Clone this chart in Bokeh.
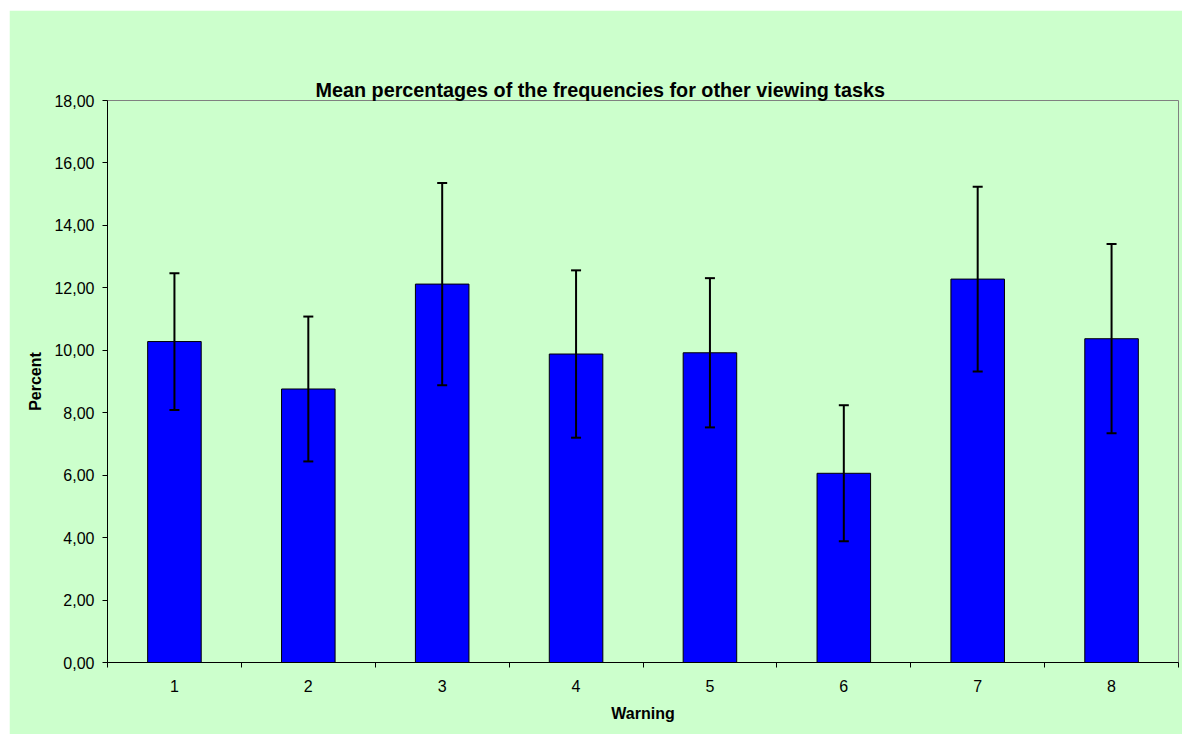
from bokeh.plotting import figure
from bokeh.models import ColumnDataSource, Whisker, TeeHead, FixedTicker, Range1d, Title
from bokeh.embed import file_html
from bokeh.resources import INLINE

# ---- data ----
warnings = [1, 2, 3, 4, 5, 6, 7, 8]
means = [10.28, 8.76, 12.12, 9.88, 9.92, 6.06, 12.28, 10.37]
errors = [2.19, 2.32, 3.24, 2.68, 2.39, 2.18, 2.96, 3.03]
y_ticks = [0, 2, 4, 6, 8, 10, 12, 14, 16, 18]
y_tick_labels = ["0,00", "2,00", "4,00", "6,00", "8,00", "10,00", "12,00", "14,00", "16,00", "18,00"]
x_tick_labels = ["1", "2", "3", "4", "5", "6", "7", "8"]
title_text = "Mean percentages of the frequencies for other viewing tasks"

BG = "#CCFFCC"
FONT = "Liberation Sans"

src = ColumnDataSource(dict(
    x=warnings,
    top=means,
    upper=[m + e for m, e in zip(means, errors)],
    lower=[m - e for m, e in zip(means, errors)],
))

p = figure(width=1173, height=724, output_backend="svg", toolbar_location=None,
           x_range=Range1d(0.5, 8.5), y_range=Range1d(0, 18),
           min_border_left=98, min_border_right=4, min_border_top=90, min_border_bottom=72)
p.styles = {"margin-left": "9px", "margin-top": "10px"}
p.background_fill_color = BG
p.border_fill_color = BG
p.outline_line_color = "#808080"
p.outline_line_width = 1
p.xgrid.visible = False
p.ygrid.visible = False

p.vbar(x="x", top="top", width=0.4, bottom=0, source=src,
       fill_color="#0000FF", line_color="black", line_width=1)

w = Whisker(base="x", upper="upper", lower="lower", source=src, level="overlay",
            line_color="black", line_width=2,
            upper_head=TeeHead(size=10, line_color="black", line_width=2),
            lower_head=TeeHead(size=10, line_color="black", line_width=2))
p.add_layout(w)

# y axis
p.yaxis.ticker = FixedTicker(ticks=y_ticks)
p.yaxis.major_label_overrides = {t: l for t, l in zip(y_ticks, y_tick_labels)}
p.yaxis.minor_tick_line_color = None
p.yaxis.major_tick_out = 5
p.yaxis.major_tick_in = 0
p.yaxis.axis_line_color = "black"
p.yaxis.major_tick_line_color = "black"
p.yaxis.major_label_text_font = FONT
p.yaxis.major_label_text_font_size = "16px"
p.yaxis.major_label_text_color = "black"
p.yaxis.major_label_standoff = 8
p.yaxis.axis_label = "Percent"
p.yaxis.axis_label_text_font = FONT
p.yaxis.axis_label_text_font_size = "16px"
p.yaxis.axis_label_text_font_style = "bold"
p.yaxis.axis_label_text_color = "black"
p.yaxis.axis_label_standoff = 7

# x axis
p.xaxis.ticker = FixedTicker(ticks=warnings,
                             minor_ticks=[0.5 + i for i in range(len(warnings) + 1)])
p.xaxis.major_label_overrides = {t: l for t, l in zip(warnings, x_tick_labels)}
p.xaxis.major_tick_out = 0
p.xaxis.major_tick_in = 0
p.xaxis.minor_tick_out = 5
p.xaxis.minor_tick_in = 0
p.xaxis.minor_tick_line_color = "black"
p.xaxis.axis_line_color = "black"
p.xaxis.major_label_text_font = FONT
p.xaxis.major_label_text_font_size = "16px"
p.xaxis.major_label_text_color = "black"
p.xaxis.major_label_standoff = 12
p.xaxis.axis_label = "Warning"
p.xaxis.axis_label_text_font = FONT
p.xaxis.axis_label_text_font_size = "16px"
p.xaxis.axis_label_text_font_style = "bold"
p.xaxis.axis_label_text_color = "black"
p.xaxis.axis_label_standoff = 10

# invisible spacer next to the frame (first in "above" = nearest), then the title
spacer = Title(text=".", standoff=34, text_font=FONT, text_font_size="10px",
               text_color=BG, text_alpha=0)
p.add_layout(spacer, "above")
t = Title(text=title_text, align="left", offset=208, standoff=0,
          text_font=FONT, text_font_size="19.8px", text_font_style="bold", text_color="black")
p.add_layout(t, "above")

open("out.html", "w").write(file_html(p, INLINE))
